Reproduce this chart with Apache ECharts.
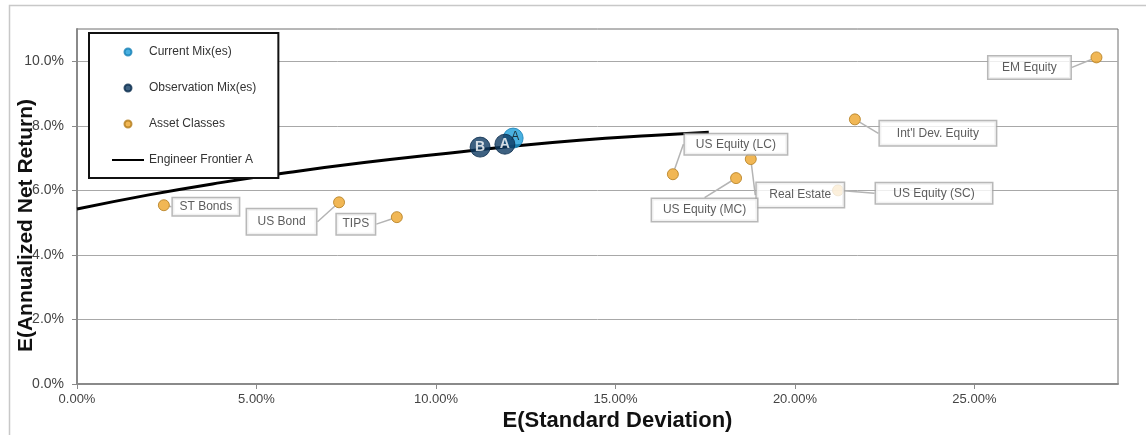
<!DOCTYPE html>
<html><head><meta charset="utf-8">
<script src="https://cdn.jsdelivr.net/npm/echarts@6/dist/echarts.min.js"></script>
<style>html,body{margin:0;padding:0;background:#fff}#c{width:1146px;height:435px}</style>
</head><body><div id="c"></div>
<script>
// ---- data (percent units) ----
const assetNames = ['ST Bonds', 'US Bond', 'TIPS', 'US Equity (LC)', 'Real Estate', 'US Equity (MC)', 'US Equity (SC)', "Int'l Dev. Equity", 'EM Equity'];
const assetStd = [2.42, 7.30, 8.91, 16.60, 18.77, 18.36, 21.20, 21.67, 28.40];
const assetRet = [5.54, 5.63, 5.17, 6.50, 6.97, 6.38, 6.00, 8.20, 10.12];

const currentNames = ['A'];
const currentStd = [12.15];
const currentRet = [7.62];

const obsNames = ['B', 'A'];
const obsStd = [11.23, 11.92];
const obsRet = [7.34, 7.43];

const frontierStd = [0, 2, 4, 6, 8, 10, 12, 14, 16, 17.6];
const frontierRet = [5.42, 5.86, 6.24, 6.57, 6.86, 7.11, 7.35, 7.55, 7.70, 7.80];

const seriesNames = ['Current Mix(es)', 'Observation Mix(es)', 'Asset Classes', 'Engineer Frontier A'];
const xTicks = [0, 5, 10, 15, 20, 25];
const yTicks = [0, 2, 4, 6, 8, 10];

// ---- callout layout (pixels, separate from the data) ----
const callout = [
  {dx: 42, dy: 1.5, w: 66, h: 17},
  {dx: -57.5, dy: 19.5, w: 69, h: 25},
  {dx: -41, dy: 7, w: 38, h: 20},
  {dx: 63, dy: -30, w: 102, h: 20},
  {dx: 49.5, dy: 36, w: 87, h: 24},
  {dx: -31.5, dy: 32, w: 105, h: 22},
  {dx: 96, dy: 3, w: 116, h: 20},
  {dx: 83, dy: 14, w: 116, h: 24},
  {dx: -67, dy: 10, w: 82, h: 22}
];

const assetData = assetNames.map((n, i) => ({
  name: n, value: [assetStd[i], assetRet[i]],
  label: {width: callout[i].w, height: callout[i].h, lineHeight: callout[i].h}
}));
const currentData = currentNames.map((n, i) => ({name: n, value: [currentStd[i], currentRet[i]]}));
const obsData = obsNames.map((n, i) => ({name: n, value: [obsStd[i], obsRet[i]]}));
const frontierData = frontierStd.map((x, i) => [x, frontierRet[i]]);

const chart = echarts.init(document.getElementById('c'), null, {renderer: 'canvas'});
const FONT = 'Liberation Sans, Arial, sans-serif';

chart.setOption({
  animation: false,
  textStyle: {fontFamily: FONT},
  graphic: [{
    type: 'rect', left: 7, top: 3, shape: {width: 1200, height: 500},
    style: {fill: 'none', stroke: '#c8c8c8', lineWidth: 1.5}, z: -10, silent: true
  }],
  grid: {left: 77, top: 29, right: 28, bottom: 51, show: true, borderColor: '#6e6e6e', borderWidth: 1,
    backgroundColor: 'transparent', containLabel: false, outerBoundsMode: 'none'},
  legend: {
    orient: 'vertical', left: 89, top: 33,
    data: [seriesNames[0], seriesNames[1], seriesNames[2],
      {name: seriesNames[3], itemStyle: {opacity: 0, borderWidth: 0}}],
    backgroundColor: '#fff', borderColor: '#111', borderWidth: 2,
    padding: [12, 22, 11, 22],
    itemWidth: 32, itemHeight: 7, itemGap: 22,
    textStyle: {fontSize: 12, color: '#333', lineHeight: 14, fontFamily: FONT},
    selectedMode: false, z: 20
  },
  xAxis: {
    type: 'value', min: 0, max: 29, interval: 5,
    name: 'E(Standard Deviation)', nameLocation: 'middle', nameGap: 26, nameMoveOverlap: false,
    nameTextStyle: {fontSize: 22, fontWeight: 'bold', color: '#111', padding: [0, 0, 0, 40], fontFamily: FONT},
    axisLine: {show: true, lineStyle: {color: '#8a8a8a', width: 2}},
    axisTick: {show: true, length: 5, lineStyle: {color: '#8a8a8a'}, customValues: xTicks},
    axisLabel: {fontSize: 13, color: '#444', margin: 9, customValues: xTicks,
      formatter: v => v.toFixed(2) + '%'},
    splitLine: {show: false}
  },
  yAxis: {
    type: 'value', min: 0, max: 11, interval: 2,
    name: 'E(Annualized Net Return)', nameLocation: 'middle', nameGap: 40, nameMoveOverlap: false,
    nameTextStyle: {fontSize: 21, fontWeight: 'bold', color: '#111', padding: [0, 38, 0, 0], fontFamily: FONT},
    axisLine: {show: true, lineStyle: {color: '#8a8a8a', width: 2}},
    axisTick: {show: true, length: 5, lineStyle: {color: '#8a8a8a'}, customValues: yTicks},
    axisLabel: {fontSize: 14, color: '#444', margin: 13, customValues: yTicks,
      formatter: v => v.toFixed(1) + '%'},
    splitLine: {show: true, lineStyle: {color: '#a8a8a8', width: 1}}
  },
  series: [
    {
      name: 'Engineer Frontier A', type: 'line', data: frontierData, smooth: true,
      symbol: 'none', lineStyle: {color: '#000', width: 3}, itemStyle: {color: '#000'}, z: 3
    },
    {
      name: 'Asset Classes', type: 'scatter', data: assetData, symbolSize: 11,
      itemStyle: {color: '#EEA52A', borderColor: '#B27A1A', borderWidth: 1}, z: 4,
      label: {show: true, position: 'inside', formatter: '{b}', fontSize: 12, color: '#333',
        backgroundColor: '#fff', borderColor: '#a6a6a6', borderWidth: 1.5, padding: 0, align: 'center'},
      labelLine: {show: true, lineStyle: {color: '#b4b4b4', width: 1.5}},
      labelLayout: function (p) {
        const c = callout[p.dataIndex];
        const cx = p.rect.x + p.rect.width / 2, cy = p.rect.y + p.rect.height / 2;
        return {x: cx + c.dx, y: cy + c.dy, align: 'center', verticalAlign: 'middle'};
      }
    },
    {
      name: 'Current Mix(es)', type: 'scatter', data: currentData, symbolSize: 20,
      itemStyle: {color: '#1C9CD8', borderColor: '#1580b5', borderWidth: 1}, z: 5,
      label: {show: true, position: 'inside', formatter: '{b}', fontSize: 12, color: '#111', offset: [2, -1]}
    },
    {
      name: 'Observation Mix(es)', type: 'scatter', data: obsData, symbolSize: 20,
      itemStyle: {color: '#0E3A62', borderColor: '#0a2c4c', borderWidth: 1}, z: 6,
      label: {show: true, position: 'inside', formatter: '{b}', fontSize: 14, fontWeight: 'bold', color: '#fff'}
    }
  ]
});
</script></body></html>
